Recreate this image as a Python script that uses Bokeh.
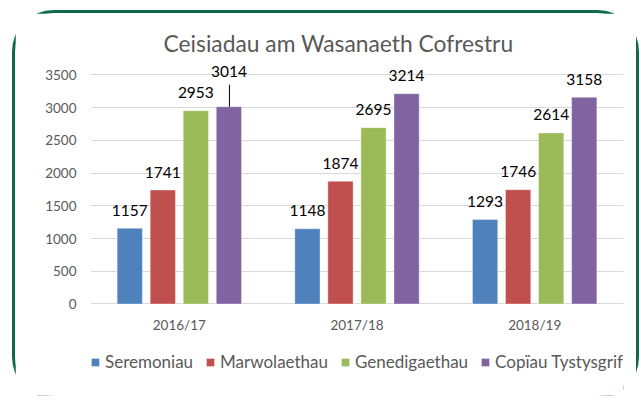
from bokeh.plotting import figure
from bokeh.models import FactorRange, Range1d, FixedTicker, ColumnDataSource, Legend
from bokeh.transform import dodge
from bokeh.core.properties import value
from bokeh.embed import file_html
from bokeh.resources import INLINE

# ---- data ----
categories = ["2016/17", "2017/18", "2018/19"]
series_names = ["Seremoniau", "Marwolaethau", "Genedigaethau", "Copïau Tystysgrif"]
seremoniau = [1157, 1148, 1293]
marwolaethau = [1741, 1874, 1746]
genedigaethau = [2953, 2695, 2614]
copiau = [3014, 3214, 3158]
y_ticks = [0, 500, 1000, 1500, 2000, 2500, 3000, 3500]
title_text = "Ceisiadau am Wasanaeth Cofrestru"

# ---- styling / layout ----
colors = ["#4F81BD", "#C0504D", "#9BBB59", "#8064A2"]
offsets = [-0.279, -0.093, 0.093, 0.279]
bar_width = 0.142
# extra lift (px) of a data label that was moved up with a leader line
label_lift = [[0, 0, 0], [0, 0, 0], [0, 0, 0], [17, 0, 0]]
FRAME_W, FRAME_H = 533, 339
Y_START, Y_END = -1414, 3767   # frame also holds the category labels and legend
FONT = "Lato"
GREY = "#595959"

p = figure(
    x_range=FactorRange(*categories),
    y_range=Range1d(Y_START, Y_END),
    frame_width=FRAME_W, frame_height=FRAME_H,
    min_border_left=75, min_border_right=13, min_border_top=44, min_border_bottom=0,
    output_backend="svg", toolbar_location=None,
    title=title_text,
)
p.styles = {
    "border": "3.5px solid #0E6A4B",
    "border-radius": "42px",
    "margin-left": "12px",
    "margin-top": "10px",
    "clip-path": "inset(0px 0px 3.5px 0px)",
}
p.outline_line_color = None
p.background_fill_color = "white"
p.border_fill_color = "white"

p.title.align = "left"
p.title.offset = 73
p.title.text_font = FONT
p.title.text_font_size = "22.8px"
p.title.text_font_style = "normal"
p.title.text_color = GREY
p.title.standoff = 2

ppu = FRAME_H / (Y_END - Y_START)
all_series = [seremoniau, marwolaethau, genedigaethau, copiau]
renderers = []
for i, vals in enumerate(all_series):
    lifts = label_lift[i]
    src = ColumnDataSource(dict(
        cat=categories, val=vals, txt=[str(v) for v in vals],
        yoff=[-18 - l for l in lifts],
        lead_top=[v + (l + 5) / ppu if l > 0 else v for v, l in zip(vals, lifts)],
        lead_alpha=[1.0 if l > 0 else 0.0 for l in lifts],
    ))
    xs = dodge("cat", offsets[i], range=p.x_range)
    r = p.vbar(x=xs, top="val", width=bar_width, source=src,
               fill_color=colors[i], line_color="white", line_alpha=0.35, line_width=1)
    renderers.append((series_names[i], [r]))
    p.text(x=xs, y="val", text="txt", source=src, y_offset="yoff",
           text_align="center", text_baseline="alphabetic",
           text_font=value(FONT), text_font_size="15.5px", text_color="black")
    if any(lifts):
        xl = dodge("cat", offsets[i] + 0.003, range=p.x_range)
        p.segment(x0=xl, y0="val", x1=xl, y1="lead_top",
                  source=src, line_color="black", line_width=1,
                  line_alpha="lead_alpha")

# category labels under the zero line
cat_src = ColumnDataSource(dict(cat=categories, zero=[0] * len(categories)))
p.text(x="cat", y="zero", text="cat", source=cat_src, y_offset=21,
       text_align="center", text_baseline="middle",
       text_font=value(FONT), text_font_size="13.5px", text_color=GREY)

# axes
p.xaxis.visible = False
p.yaxis.ticker = FixedTicker(ticks=y_ticks)
p.yaxis.axis_line_color = None
p.yaxis.major_tick_line_color = None
p.yaxis.minor_tick_line_color = None
p.yaxis.major_tick_out = 0
p.yaxis.major_label_standoff = 14
p.yaxis.major_label_text_font = FONT
p.yaxis.major_label_text_font_size = "13.5px"
p.yaxis.major_label_text_color = GREY

p.xgrid.grid_line_color = None
p.ygrid.grid_line_color = "#D9D9D9"
p.ygrid.grid_line_width = 1
p.ygrid.ticker = FixedTicker(ticks=y_ticks)

lg = Legend(items=renderers, orientation="horizontal", location=(0, 24))
lg.background_fill_alpha = 0
lg.border_line_alpha = 0
lg.padding = 0
lg.margin = 0
lg.spacing = 12
lg.glyph_width = 10
lg.glyph_height = 10
lg.label_standoff = 5
lg.label_text_font = FONT
lg.label_text_font_size = "17px"
lg.label_text_color = GREY
p.add_layout(lg)

open("out.html", "w").write(file_html(p, INLINE))
